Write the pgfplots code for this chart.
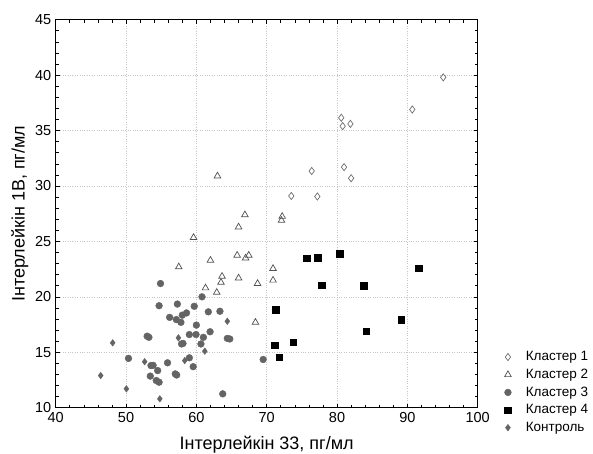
\documentclass[border=0pt]{standalone}
\usepackage{pgfplots}
\pgfplotsset{compat=1.18}
\usepackage{fontspec}
\setmainfont{Liberation Sans}

\definecolor{ptgray}{HTML}{646464}
\definecolor{opengray}{HTML}{6E6E6E}
\definecolor{trigray}{HTML}{505050}

\begin{document}
\begin{tikzpicture}
\begin{axis}[
  scale only axis,
  width=422pt, height=388pt,
  xmin=40, xmax=100, ymin=10, ymax=45,
  xtick={40,50,...,100}, ytick={10,15,...,45},
  minor x tick num=4, minor y tick num=4,
  tick align=inside, tick pos=both,
  major tick length=4pt, minor tick length=3pt,
  tick style={black, line width=0.6pt},
  axis line style={black, line width=1pt},
  grid=major,
  grid style={gray!45, dotted, line width=0.6pt},
  /pgf/number format/assume math mode=true,
  tick label style={font=\fontsize{14.5}{16}\selectfont},
  xticklabel style={yshift=-1.5pt},
  yticklabel style={xshift=-1pt},
  xlabel={Інтерлейкін 33, пг/мл},
  ylabel={Інтерлейкін 1В, пг/мл},
  label style={font=\fontsize{18}{21}\selectfont},
  xlabel style={at={(axis description cs:0.5,-0.109)}, anchor=base},
  ylabel style={at={(axis description cs:-0.085,0.5)}, anchor=center},
  legend cell align=left,
  legend style={at={(axis description cs:1.056,0.154)}, anchor=north west,
    draw=none, fill=none, font=\fontsize{13.5}{16}\selectfont,
    row sep=3.8pt, nodes={inner sep=1.5pt},
    /tikz/every odd column/.append style={column sep=13pt}},
]
\coordinate (bl) at (rel axis cs:0,0);

% Кластер 1
\addplot[only marks, mark=diamond, mark size=3.6pt,
  mark options={draw=opengray, fill=white, line width=0.7pt}]
  coordinates {
  (95.1,39.8) (90.7,36.9) (80.6,36.15) (80.8,35.4) (81.9,35.6)
  (76.4,31.35) (81.0,31.7) (82.0,30.7) (73.5,29.1) (77.2,29.05)
  };
\addlegendentry{Кластер 1}

% Кластер 2
\addplot[only marks, mark=triangle, mark size=3.8pt,
  mark options={draw=trigray, fill=white, line width=0.7pt}]
  coordinates {
  (63.0,30.9) (66.9,27.4) (72.2,27.25) (72.1,26.9) (66.0,26.3)
  (59.6,25.35) (65.8,23.75) (67.0,23.5) (67.45,23.75) (62.0,23.3)
  (57.5,22.7) (70.9,22.55) (63.65,21.85) (63.5,21.3) (66.0,21.7)
  (70.9,21.5) (68.7,21.2) (61.3,20.8) (62.9,20.4) (68.4,17.7)
  };
\addlegendentry{Кластер 2}

% Кластер 3
\addplot[only marks, mark=*, mark size=3.4pt,
  mark options={draw=ptgray, fill=ptgray}]
  coordinates {
  (54.9,21.2) (54.7,19.2) (57.3,19.35) (59.7,19.15) (60.8,20.0)
  (56.2,18.15) (57.15,17.95) (57.8,17.7) (58.0,18.35) (58.6,18.55)
  (61.7,18.65) (63.35,18.7) (60.0,17.45) (53.0,16.45) (53.25,16.35)
  (59.0,16.6) (59.95,16.6) (61.0,16.35) (61.95,16.85) (57.9,15.75)
  (58.1,15.8) (60.65,15.75) (64.4,16.25) (64.75,16.2) (50.35,14.45)
  (53.55,13.8) (53.85,13.82) (54.5,13.35) (55.9,14.05) (59.0,14.5)
  (59.55,13.7) (57.0,13.05) (57.2,12.95) (53.45,12.85) (54.3,12.45)
  (54.7,12.3) (63.75,11.25) (69.5,14.35)
  };
\addlegendentry{Кластер 3}

% Кластер 4
\addplot[only marks, mark=square*, mark size=3.3pt,
  mark options={draw=black, fill=black}]
  coordinates {
  (75.7,23.5) (77.25,23.55) (80.4,23.9) (91.65,22.6) (77.8,21.05)
  (83.8,21.0) (71.3,18.85) (89.1,17.95) (84.15,16.9) (71.1,15.65)
  (73.75,15.9) (71.75,14.55)
  };
\addlegendentry{Кластер 4}

% Контроль
\addplot[only marks, mark=diamond*, mark size=3.3pt,
  mark options={draw=ptgray, fill=ptgray}]
  coordinates {
  (46.4,12.9) (48.1,15.85) (50.05,11.7) (52.65,14.15) (54.8,10.8)
  (57.45,16.3) (58.35,14.25) (61.2,15.1) (64.4,17.8)
  };
\addlegendentry{Контроль}
\end{axis}
\pgfresetboundingbox
\path ([xshift=-55.7pt,yshift=-45.3pt]bl) rectangle ++(593pt,453pt);
\end{tikzpicture}
\end{document}
